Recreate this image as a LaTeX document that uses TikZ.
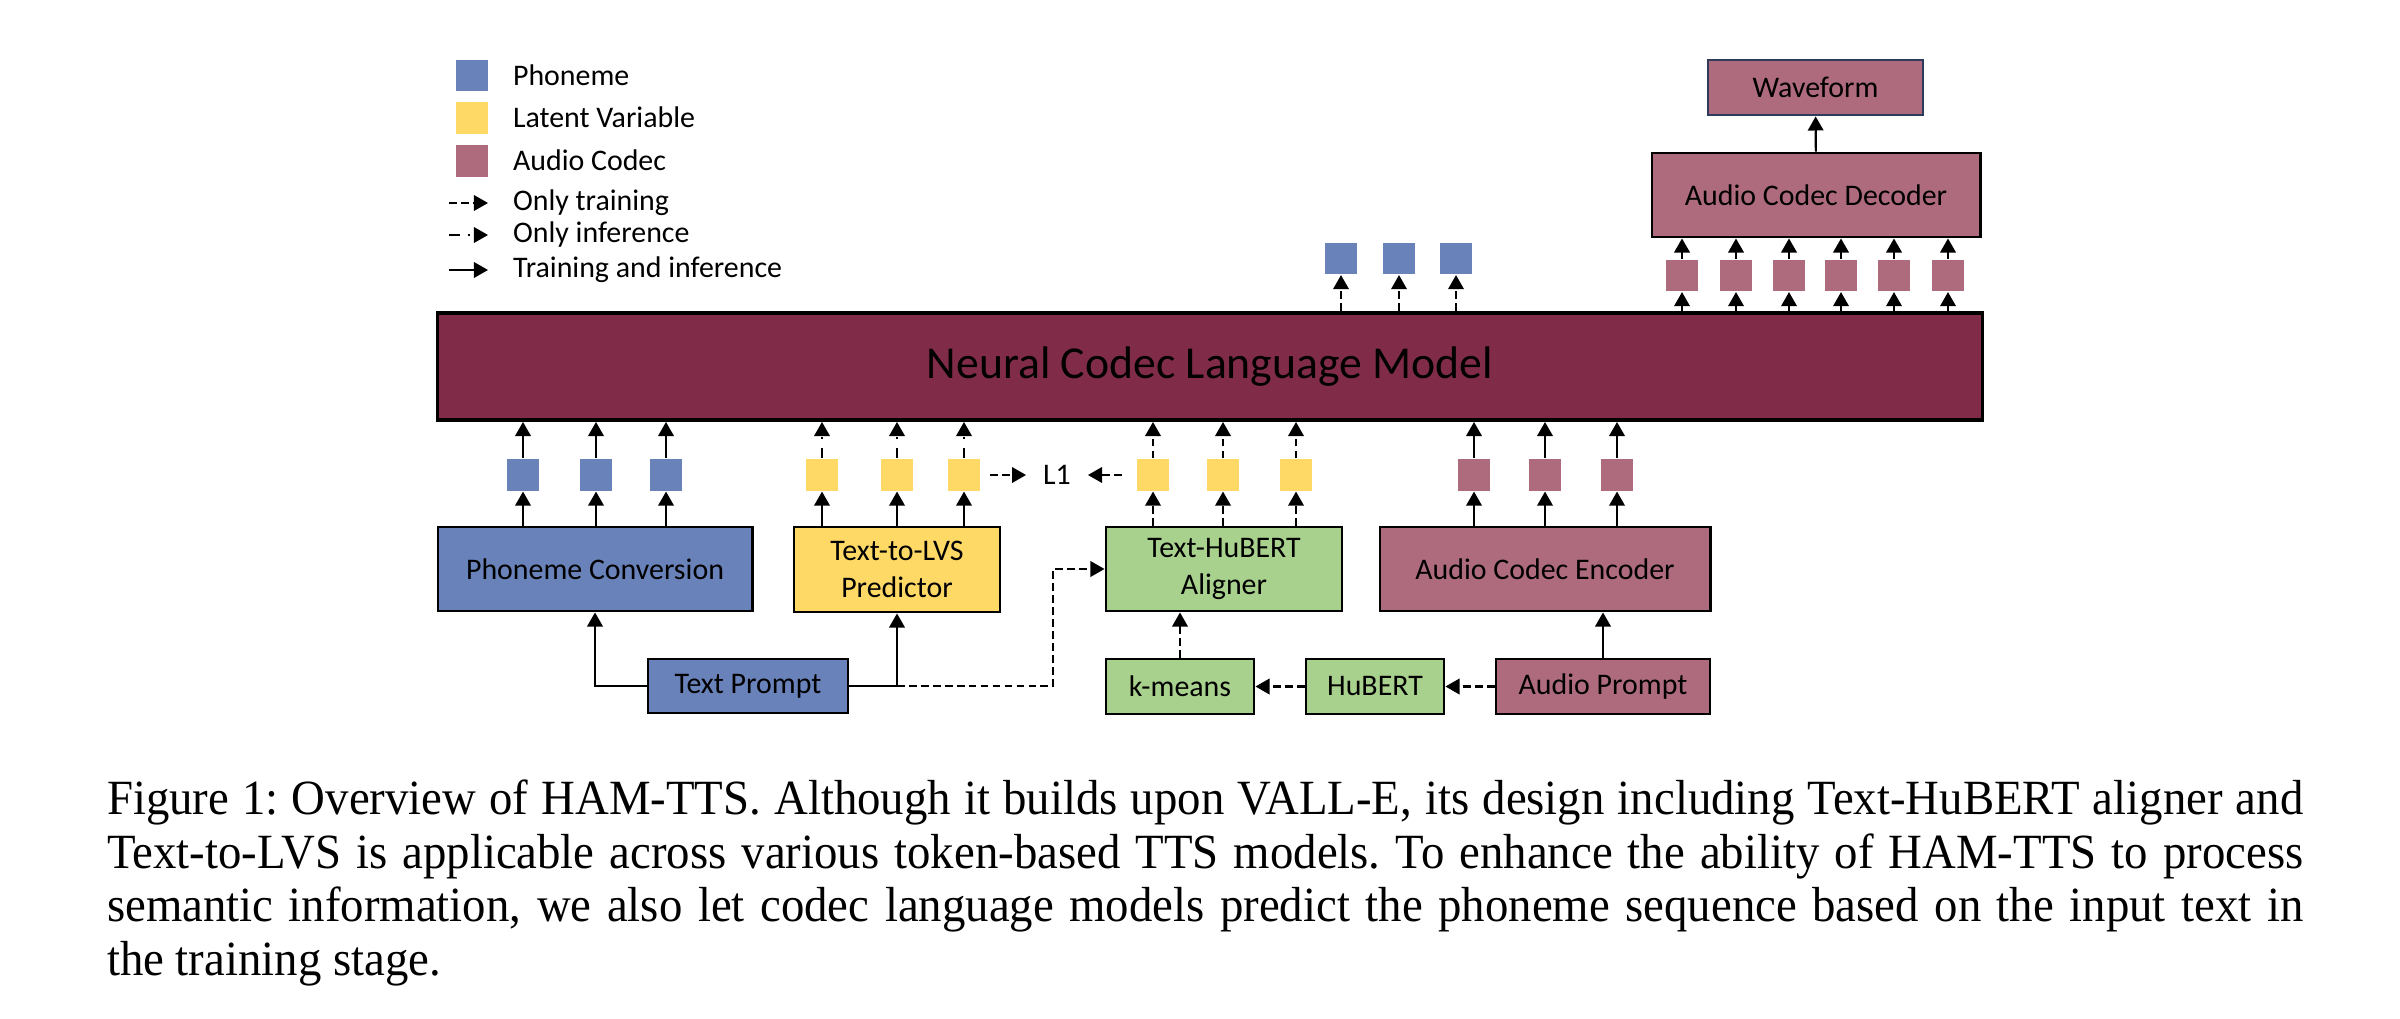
\documentclass[tikz,border=0pt]{standalone}
\usepackage{fontspec}
\newfontfamily\calib{Carlito}
\newfontfamily\capfont[FakeStretch=0.95]{Liberation Serif}
\usetikzlibrary{arrows.meta}
\definecolor{phblue}{HTML}{6982BA}
\definecolor{lvyellow}{HTML}{FFD966}
\definecolor{acmauve}{HTML}{AE6B7E}
\definecolor{nclmred}{HTML}{802C48}
\definecolor{algreen}{HTML}{A9D18E}
\definecolor{wavenavy}{HTML}{2F3B59}
\tikzset{
  >={Triangle[length=4pt,width=4.4pt]},
  box/.style={draw,line width=0.8pt,inner sep=0pt,align=center},
  tok/.style={minimum width=0.32cm,minimum height=0.31cm,inner sep=0pt},
  train/.style={dash pattern=on 2.2pt off 1.2pt},
  infer/.style={dash pattern=on 3pt off 2.4pt on 0.7pt off 2.4pt},
}
\begin{document}
\begin{tikzpicture}[x=0.01cm,y=-0.01cm,line width=0.6pt,
    font=\calib\fontsize{8.5}{10.5}\selectfont]
    \useasboundingbox (0,0) rectangle (2400,1018);
    % legend
    \node [tok,fill=phblue] (lgph) at (472,75.5) {};
    \node [tok,fill=lvyellow] (lglv) at (472,118) {};
    \node [tok,fill=acmauve] (lgac) at (472,161) {};
    \node [anchor=base west,inner sep=0pt] (lgtph) at (512,85) {Phoneme};
    \node [anchor=base west,inner sep=0pt] (lgtlv) at (512,127.5) {Latent Variable};
    \node [anchor=base west,inner sep=0pt] (lgtac) at (512,170.5) {Audio Codec};
    \coordinate (lga1) at (449,203);
    \coordinate (lgb1) at (488,203);
    \coordinate (lga2) at (449,235);
    \coordinate (lgb2) at (488,235);
    \coordinate (lga3) at (449,270);
    \coordinate (lgb3) at (488,270);
    \node [anchor=base west,inner sep=0pt] (lgttr) at (512,210) {Only training};
    \node [anchor=base west,inner sep=0pt] (lgtin) at (512,242) {Only inference};
    \node [anchor=base west,inner sep=0pt] (lgtti) at (512,277) {Training and inference};
    \draw [train,->] (lga1) -- (lgb1);
    \draw [infer,->] (lga2) -- (lgb2);
    \draw [->] (lga3) -- (lgb3);

    % main model and decoder
    \node [box,fill=nclmred,line width=1.1pt,minimum width=15.44cm,minimum height=1.07cm,
        font=\calib\fontsize{13}{15.6}\selectfont] (nclm) at (1210,366.5) {Neural Codec Language Model};
    \node [box,fill=acmauve,minimum width=3.28cm,minimum height=0.84cm] (dec) at (1816,195) {Audio Codec Decoder};
    \node [box,fill=acmauve,draw=wavenavy,minimum width=2.15cm,minimum height=0.55cm] (wave) at (1815.5,87.5) {Waveform};
    \node [tok,fill=phblue] (o1) at (1341,258.5) {};
    \node [tok,fill=phblue] (o2) at (1399,258.5) {};
    \node [tok,fill=phblue] (o3) at (1456,258.5) {};
    \node [tok,fill=acmauve] (d1) at (1682,275.5) {};
    \node [tok,fill=acmauve] (d2) at (1736,275.5) {};
    \node [tok,fill=acmauve] (d3) at (1789,275.5) {};
    \node [tok,fill=acmauve] (d4) at (1841,275.5) {};
    \node [tok,fill=acmauve] (d5) at (1894,275.5) {};
    \node [tok,fill=acmauve] (d6) at (1948,275.5) {};

    % input side
    \node [box,fill=phblue,minimum width=3.14cm,minimum height=0.84cm] (pc) at (595,569) {Phoneme Conversion};
    \node [box,fill=lvyellow,minimum width=2.06cm,minimum height=0.85cm] (t2l) at (897,569.5) {Text-to-LVS\\Predictor};
    \node [box,fill=algreen,minimum width=2.36cm,minimum height=0.84cm] (thal) at (1224,569) {Text-HuBERT\\Aligner};
    \node [box,fill=acmauve,minimum width=3.30cm,minimum height=0.84cm] (enc) at (1545,569) {Audio Codec Encoder};
    \node [box,fill=phblue,minimum width=2.00cm,minimum height=0.54cm] (tp) at (748,686) {Text Prompt};
    \node [box,fill=algreen,minimum width=1.48cm,minimum height=0.55cm] (km) at (1180,686.5) {k-means};
    \node [box,fill=algreen,minimum width=1.38cm,minimum height=0.55cm] (hub) at (1375,686.5) {HuBERT};
    \node [box,fill=acmauve,minimum width=2.14cm,minimum height=0.55cm] (ap) at (1603,686.5) {Audio Prompt};
    \node [tok,fill=phblue] (p1) at (523,475) {};
    \node [tok,fill=phblue] (p2) at (596,475) {};
    \node [tok,fill=phblue] (p3) at (666,475) {};
    \node [tok,fill=lvyellow] (v1) at (822,475) {};
    \node [tok,fill=lvyellow] (v2) at (897,475) {};
    \node [tok,fill=lvyellow] (v3) at (964,475) {};
    \node [tok,fill=lvyellow] (u1) at (1153,475) {};
    \node [tok,fill=lvyellow] (u2) at (1223,475) {};
    \node [tok,fill=lvyellow] (u3) at (1296,475) {};
    \node [tok,fill=acmauve] (a1) at (1474,475) {};
    \node [tok,fill=acmauve] (a2) at (1545,475) {};
    \node [tok,fill=acmauve] (a3) at (1617,475) {};
    \node [inner xsep=0.16cm,inner ysep=0pt] (l1) at (1057,475) {L1};
    \coordinate (bend) at (1053,686);

    % connectors
    \draw [->] (tp.west) -| (pc.south);
    \draw [->] (tp.east) -| (t2l.south);
    \draw [train,->] (t2l.south |- tp.east) -- (bend) |- (thal.west);
    \draw [train,->] (km.north) -- (km.north |- thal.south);
    \draw [train,->] (hub.west) -- (km.east);
    \draw [train,->] (ap.west) -- (hub.east);
    \draw [->] (ap.north) -- (ap.north |- enc.south);
    \draw [->] (p1 |- pc.north) -- (p1);
    \draw [->] (p2 |- pc.north) -- (p2);
    \draw [->] (p3 |- pc.north) -- (p3);
    \draw [->] (p1) -- (p1 |- nclm.south);
    \draw [->] (p2) -- (p2 |- nclm.south);
    \draw [->] (p3) -- (p3 |- nclm.south);
    \draw [->] (v1 |- t2l.north) -- (v1);
    \draw [->] (v2 |- t2l.north) -- (v2);
    \draw [->] (v3 |- t2l.north) -- (v3);
    \draw [infer,->] (v1) -- (v1 |- nclm.south);
    \draw [infer,->] (v2) -- (v2 |- nclm.south);
    \draw [infer,->] (v3) -- (v3 |- nclm.south);
    \draw [train,->] (u1 |- thal.north) -- (u1);
    \draw [train,->] (u2 |- thal.north) -- (u2);
    \draw [train,->] (u3 |- thal.north) -- (u3);
    \draw [train,->] (u1) -- (u1 |- nclm.south);
    \draw [train,->] (u2) -- (u2 |- nclm.south);
    \draw [train,->] (u3) -- (u3 |- nclm.south);
    \draw [train,->,shorten <=0.09cm] (v3) -- (l1);
    \draw [train,->,shorten <=0.14cm] (u1) -- (l1);
    \draw [->] (a1 |- enc.north) -- (a1);
    \draw [->] (a2 |- enc.north) -- (a2);
    \draw [->] (a3 |- enc.north) -- (a3);
    \draw [->] (a1) -- (a1 |- nclm.south);
    \draw [->] (a2) -- (a2 |- nclm.south);
    \draw [->] (a3) -- (a3 |- nclm.south);
    \draw [train,->] (o1 |- nclm.north) -- (o1);
    \draw [train,->] (o2 |- nclm.north) -- (o2);
    \draw [train,->] (o3 |- nclm.north) -- (o3);
    \draw [->] (d1 |- nclm.north) -- (d1);
    \draw [->] (d2 |- nclm.north) -- (d2);
    \draw [->] (d3 |- nclm.north) -- (d3);
    \draw [->] (d4 |- nclm.north) -- (d4);
    \draw [->] (d5 |- nclm.north) -- (d5);
    \draw [->] (d6 |- nclm.north) -- (d6);
    \draw [->] (d1) -- (d1 |- dec.south);
    \draw [->] (d2) -- (d2 |- dec.south);
    \draw [->] (d3) -- (d3 |- dec.south);
    \draw [->] (d4) -- (d4 |- dec.south);
    \draw [->] (d5) -- (d5 |- dec.south);
    \draw [->] (d6) -- (d6 |- dec.south);
    \draw [->] (dec) -- (wave);

    % caption
    \node [anchor=north west,inner sep=0pt,text width=21.95cm,align=justify,
        font=\capfont\fontsize{14}{15.2}\selectfont\frenchspacing] (cap) at (106,779)
        {Figure 1: Overview of HAM-TTS. Although it builds upon VALL-E, its design including Text-HuBERT aligner and\linebreak
        Text-to-LVS is applicable across various token-based TTS models. To enhance the ability of HAM-TTS to process\linebreak
        semantic information, we also let codec language models predict the phoneme sequence based on the input text in\linebreak
        the training stage.};
\end{tikzpicture}
\end{document}
